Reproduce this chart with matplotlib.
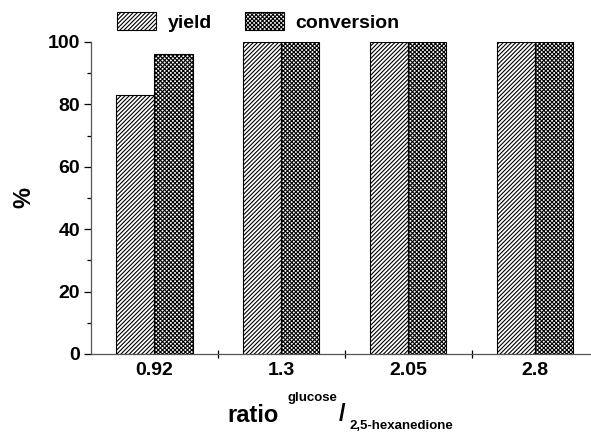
import numpy as np
import matplotlib
matplotlib.use('Agg')
import matplotlib.pyplot as plt

ratios = ['0.92', '1.3', '2.05', '2.8']
yield_pct = [83, 100, 100, 100]
conversion_pct = [96, 100, 100, 100]

plt.rcParams['font.family'] = ['Liberation Sans', 'DejaVu Sans']
plt.rcParams['font.weight'] = 'bold'
plt.rcParams['hatch.linewidth'] = 0.8
plt.rcParams['hatch.color'] = '#333333'

W, H = 591, 433
fig = plt.figure(figsize=(W / 100, H / 100), dpi=100)
ax = fig.add_axes([91 / W, 1 - 354 / H, 1 - 91 / W, (354 - 42) / H])

x = np.arange(len(ratios))
bw = 0.3
b1 = ax.bar(x - bw / 2, yield_pct, bw, color='white', edgecolor='black',
            linewidth=0.8, hatch='////////', label='yield')
b2 = ax.bar(x + bw / 2, conversion_pct, bw, color='white', edgecolor='black',
            linewidth=0.8, hatch='xxxxxxxx', label='conversion')

ax.set_xlim(-0.5, 3.44)
ax.set_ylim(0, 100)
ax.spines['top'].set_visible(False)
ax.spines['right'].set_visible(False)
for s in ('left', 'bottom'):
    ax.spines[s].set_linewidth(0.9)
    ax.spines[s].set_color('#555555')

# y ticks
ax.set_yticks(np.arange(0, 101, 20))
ax.set_yticks(np.arange(10, 100, 20), minor=True)
ax.tick_params(axis='y', which='major', length=5, width=0.9, labelsize=14, pad=3)
ax.tick_params(axis='y', which='minor', length=3, width=0.9)

# x ticks: marks between groups, labels at group centres
ax.set_xticks([0.5, 1.5, 2.5])
ax.set_xticklabels([])
ax.tick_params(axis='x', which='major', direction='inout', length=6, width=0.9)
ax.set_xticks(x, minor=True)
ax.set_xticklabels(ratios, minor=True)
ax.tick_params(axis='x', which='minor', length=0, labelsize=14, pad=6)
for lbl in ax.get_xticklabels(minor=True) + ax.get_yticklabels():
    lbl.set_fontweight('bold')

fig.text(24 / W, 1 - 197 / H, '%', rotation=90, fontsize=17,
         fontweight='bold', ha='center', va='center')

# x axis title: ratio glucose/2,5-hexanedione
fig.text(227 / W, 1 - 422 / H, 'ratio', fontsize=17, fontweight='bold',
         ha='left', va='baseline')
fig.text(288 / W, 1 - 401 / H, 'glucose', fontsize=9.5, fontweight='bold',
         ha='left', va='baseline')
fig.text(339 / W, 1 - 421 / H, '/', fontsize=17, fontweight='bold',
         ha='left', va='baseline')
fig.text(350 / W, 1 - 429 / H, '2,5-hexanedione', fontsize=9.5,
         fontweight='bold', ha='left', va='baseline')

fig.legend(handles=[b1, b2], loc='center left',
           bbox_to_anchor=(117 / W, 1 - 22 / H), ncol=2, frameon=False,
           handlelength=2.0, handleheight=1.0,
           handletextpad=0.6, columnspacing=1.7, borderpad=0,
           borderaxespad=0, prop={'weight': 'bold', 'size': 14})

fig.savefig('out.png', dpi=100)
